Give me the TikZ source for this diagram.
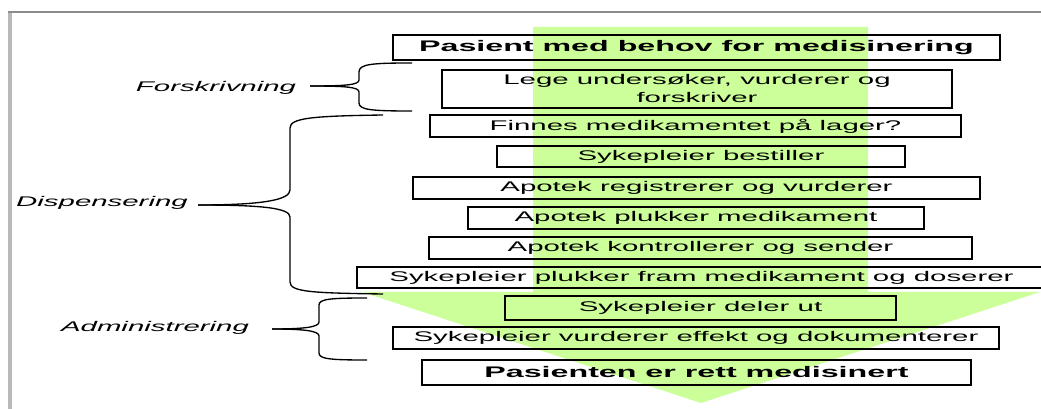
\documentclass[tikz,border=0pt]{standalone}
\usepackage{fontspec}
\setmainfont[FakeStretch=2.1]{Liberation Sans}

\definecolor{arrowgreen}{RGB}{204,255,153}
\definecolor{framegray}{RGB}{140,140,140}
\definecolor{sidegray}{RGB}{185,185,185}

\tikzset{every picture/.style={line width=0.75pt}}
\tikzset{
  stepbox/.style={draw, inner sep=0pt, line width=1pt, align=center, font=\fontsize{10.5}{13.5}\selectfont},
  endbox/.style={stepbox, font=\bfseries\fontsize{11.5}{13.5}\selectfont},
  phase/.style={inner sep=0.75pt, font=\itshape\fontsize{10.5}{12}\selectfont},
  brace/.style={line width=1pt}
}

\begin{document}
\begin{tikzpicture}[x=0.75pt,y=0.75pt,yscale=-1,xscale=1]
\useasboundingbox (0,0) rectangle (1041,409);

%Frame
\draw [sidegray, line width=3.4pt] (10,12) -- (10,409) ;
\draw [framegray, line width=1.2pt] (8,12) -- (1041,12) ;

%Shape: Down Arrow
\fill [arrowgreen] (533,27) -- (868,27) -- (868,292) -- (1040,292) -- (701,403) -- (362,292) -- (533,292) -- cycle ;

% Step boxes
\node [endbox, minimum width=455.25pt, minimum height=18.75pt] (pasient) at (696.5,47.5) {Pasient med behov for medisinering};
\node [stepbox, minimum width=382.5pt, minimum height=28.5pt] (lege) at (697,89) {Lege undersøker, vurderer og\\forskriver};
\node [stepbox, minimum width=398.25pt, minimum height=16.5pt] (lager) at (695.5,126) {Finnes medikamentet på lager?};
\node [stepbox, minimum width=306pt, minimum height=15.75pt] (bestiller) at (701,156.5) {Sykepleier bestiller};
\node [stepbox, minimum width=425.25pt, minimum height=16.5pt] (registrerer) at (696.5,188) {Apotek registrerer og vurderer};
\node [stepbox, minimum width=342pt, minimum height=16.5pt] (plukker) at (696,218) {Apotek plukker medikament};
\node [stepbox, minimum width=407.25pt, minimum height=16.5pt] (sender) at (700.5,248) {Apotek kontrollerer og sender};
\node [stepbox, minimum width=516.75pt, minimum height=15.75pt] (doserer) at (701.5,277.5) {Sykepleier plukker fram medikament og doserer};
\node [stepbox, minimum width=293.25pt, minimum height=18pt] (deler) at (700.5,308) {Sykepleier deler ut};
\node [stepbox, minimum width=454.5pt, minimum height=16.5pt] (dokumenterer) at (696,338) {Sykepleier vurderer effekt og dokumenterer};
\node [endbox, minimum width=411.75pt, minimum height=18.75pt] (medisinert) at (696.5,372.5) {Pasienten er rett medisinert};

% Phase labels
\node [phase] (forskrivning) at (216,88) {Forskrivning};
\node [phase] (dispensering) at (102,203) {Dispensering};
\node [phase] (administrering) at (155,328) {Administrering};

%Braces
\draw [brace] (412,63) .. controls (372,63) and (359,64) .. (359,72) -- (359,80) .. controls (359,85) and (345,86) .. (310,86) ;
\draw [brace] (310,86) .. controls (345,86) and (359,87) .. (359,92) -- (359,103) .. controls (359,110) and (372,111) .. (412,111) ;
\draw [brace] (383,115) .. controls (312,116) and (290,118) .. (290,128) -- (290,190) .. controls (290,200) and (262,205) .. (198,205) ;
\draw [brace] (198,205) .. controls (262,205) and (290,208) .. (290,217) -- (290,282) .. controls (290,292) and (312,293) .. (383,294) ;
\draw [brace] (367,298) .. controls (330,298) and (319,299) .. (319,305) -- (319,322) .. controls (319,327) and (305,329) .. (272,329) ;
\draw [brace] (272,329) .. controls (305,329) and (319,331) .. (319,336) -- (319,353) .. controls (319,359) and (330,360) .. (367,360) ;

\end{tikzpicture}
\end{document}
